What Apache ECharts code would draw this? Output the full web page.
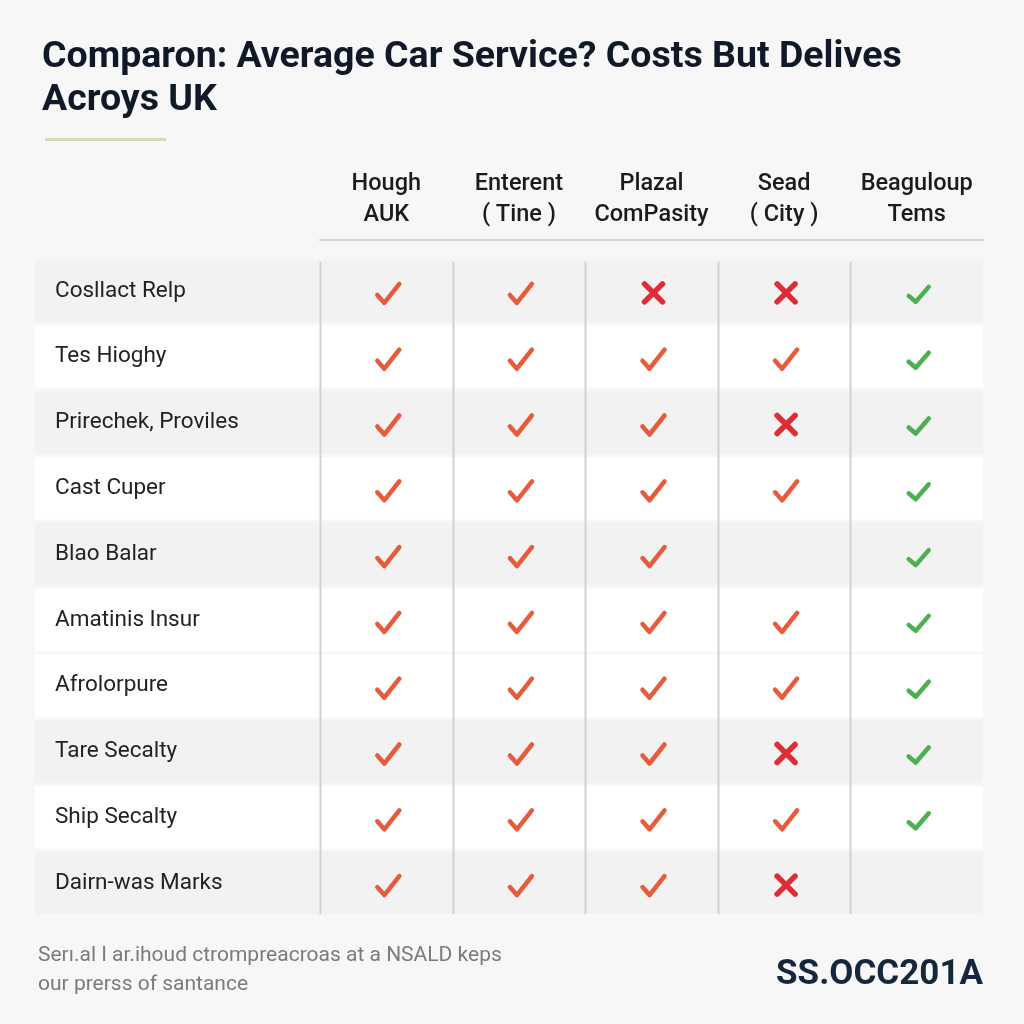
<!DOCTYPE html>
<html><head><meta charset="utf-8">
<script src="https://cdn.jsdelivr.net/npm/echarts@6/dist/echarts.min.js"></script>
<style>html,body{margin:0;padding:0;background:#f7f7f7}#c{width:1024px;height:1024px}</style>
</head><body><div id="c"></div>
<script>
// ---- data ----
const columns = ['Hough\nAUK', 'Enterent\n( Tine )', 'Plazal\nComPasity', 'Sead\n( City )', 'Beaguloup\nTems'];
const rows = ['Cosllact Relp', 'Tes Hioghy', 'Prirechek, Proviles', 'Cast Cuper', 'Blao Balar',
              'Amatinis Insur', 'Afrolorpure', 'Tare Secalty', 'Ship Secalty', 'Dairn-was Marks'];
// 1 = check, 0 = cross, null = nothing
const houghAUK        = [1, 1, 1, 1, 1, 1, 1, 1, 1, 1];
const enterentTine    = [1, 1, 1, 1, 1, 1, 1, 1, 1, 1];
const plazalComPasity = [0, 1, 1, 1, 1, 1, 1, 1, 1, 1];
const seadCity        = [0, 1, 0, 1, null, 1, 1, 0, 1, 0];
const beaguloupTems   = [1, 1, 1, 1, 1, 1, 1, 1, 1, null];
const rowShaded       = [1, 0, 1, 0, 1, 0, 0, 1, 0, 1];
const titleText = 'Comparon: Average Car Service? Costs But Delives\nAcroys UK';
const footText = 'Serı.al I ar.ihoud ctrompreacroas at a NSALD keps\nour prerss of santance';
const logoText = 'SS.OCC201A';

// ---- build ----
const series = [houghAUK, enterentTine, plazalComPasity, seadCity, beaguloupTems];
const markData = [];
series.forEach((col, ci) => col.forEach((v, ri) => { if (v !== null) markData.push([ci, ri, v]); }));

const chart = echarts.init(document.getElementById('c'), null, { renderer: 'canvas' });
const FONT = 'Roboto, "Noto Sans", sans-serif';

chart.setOption({
  backgroundColor: '#f7f7f7',
  animation: false,
  title: {
    text: titleText, left: 37, top: 31,
    textStyle: { fontFamily: FONT, fontSize: 37.5, fontWeight: 'bold', color: '#111827', lineHeight: 43 }
  },
  graphic: [
    { type: 'rect', left: 45, top: 138, shape: { width: 121, height: 3 }, style: { fill: '#d5dbb2' } },
    { type: 'text', left: 38, top: 941, style: { text: footText, font: '21px ' + FONT, fill: '#7b7b7b', lineHeight: 29 } },
    { type: 'text', right: 41, top: 958, style: { text: logoText, font: 'bold 35px ' + FONT, fill: '#16263b' } }
  ],
  grid: { left: 320, right: 41, top: 258, bottom: 108 },
  xAxis: {
    type: 'category', position: 'top', data: columns, offset: 18, z: 10,
    axisLine: { show: true, lineStyle: { color: '#d3d3d3', width: 2 } },
    axisTick: { show: false }, splitLine: { show: false },
    axisLabel: { interval: 0, margin: 9, fontFamily: FONT, fontSize: 23.5, fontWeight: 500, lineHeight: 31, color: '#1b1b1b' }
  },
  yAxis: {
    type: 'category', data: rows, inverse: true, z: 10,
    axisLine: { show: false }, axisTick: { show: false }, splitLine: { show: false },
    axisLabel: { margin: 265, align: 'left', fontFamily: FONT, fontSize: 22.5, color: '#222', padding: [4, 0, 0, 0] }
  },
  series: [
    {
      type: 'custom', z: 1, silent: true,
      data: rows.map((r, i) => [0, i]),
      renderItem: function (params, api) {
        const i = api.value(1);
        const c = api.coord([0, i]);
        const h = api.size([0, 1])[1];
        const cs = params.coordSys;
        return {
          type: 'rect',
          shape: { x: 35, y: c[1] - h / 2 + 1.5, width: cs.x + cs.width - 35, height: h - 3 },
          style: { fill: rowShaded[i] ? '#f2f2f2' : '#ffffff' }
        };
      }
    },
    {
      type: 'custom', z: 2, silent: true,
      data: columns.map((c, i) => [i, 0]),
      renderItem: function (params, api) {
        const ci = api.value(0);
        const c = api.coord([ci, 0]);
        const w = api.size([1, 0])[0];
        const cs = params.coordSys;
        const x = Math.round(c[0] - w / 2) + 0.5;
        return {
          type: 'line',
          shape: { x1: x, y1: cs.y + 4, x2: x, y2: cs.y + cs.height - 2 },
          style: { stroke: '#d2d2d2', lineWidth: 2 }
        };
      }
    },
    {
      type: 'custom', z: 3, silent: true,
      data: markData,
      renderItem: function (params, api) {
        const ci = api.value(0), ri = api.value(1), v = api.value(2);
        const c = api.coord([ci, ri]);
        const x = c[0] + 2, y = c[1] + 2;
        if (v === 1) {
          if (ci === 4) {
            return { type: 'polyline', shape: { points: [[x - 10, y + 3], [x - 3, y + 9], [x + 10, y - 6]] },
              style: { stroke: '#4caf50', lineWidth: 4.5, lineCap: 'round', lineJoin: 'round', fill: null } };
          }
          return { type: 'polyline', shape: { points: [[x - 11, y + 2], [x - 4, y + 10], [x + 11, y - 9]] },
            style: { stroke: '#e65b3b', lineWidth: 4.5, lineCap: 'round', lineJoin: 'round', fill: null } };
        }
        return { type: 'group', children: [
          { type: 'line', shape: { x1: x - 9, y1: y - 9, x2: x + 9, y2: y + 9 }, style: { stroke: '#dd2e36', lineWidth: 5.5, lineCap: 'round' } },
          { type: 'line', shape: { x1: x + 9, y1: y - 9, x2: x - 9, y2: y + 9 }, style: { stroke: '#dd2e36', lineWidth: 5.5, lineCap: 'round' } }
        ] };
      }
    }
  ]
});
</script>
</body></html>
